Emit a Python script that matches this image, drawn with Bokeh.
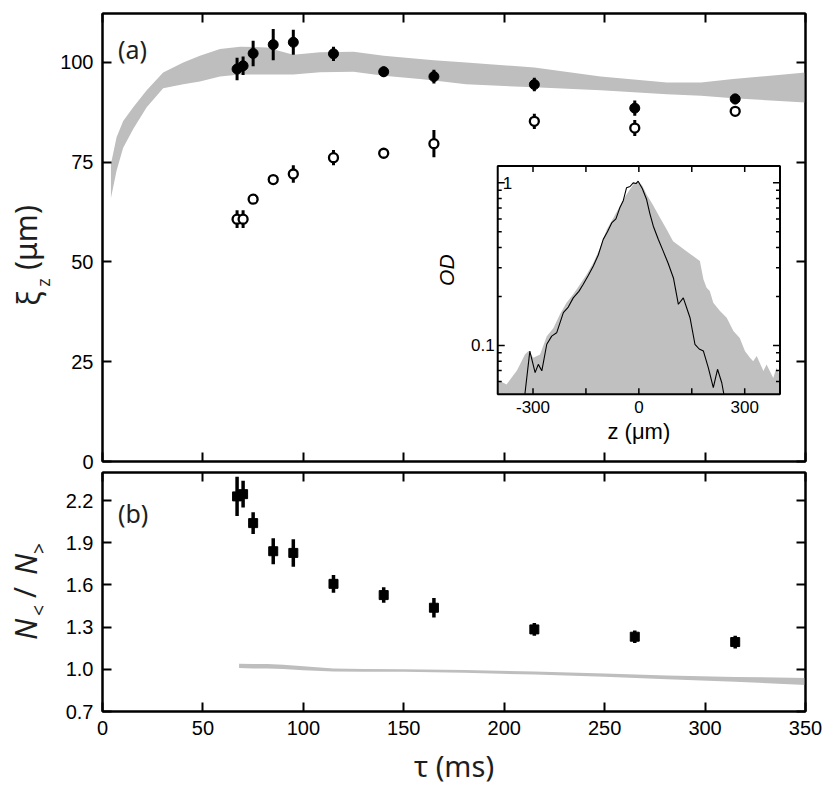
import math
from bokeh.plotting import figure
from bokeh.models import Range1d, LinearAxis, Label, FixedTicker, LogScale
from bokeh.layouts import column, row
from bokeh.embed import file_html
from bokeh.resources import INLINE
from bokeh.core.properties import value

# ---------------- data ----------------
tau_ms = [67, 70, 75, 85, 95, 115, 140, 165, 215, 265, 315]
xi_filled = [98.3, 99.1, 102.2, 104.4, 105.0, 102.1, 97.6, 96.4, 94.4, 88.5, 90.8]
xi_filled_err = [2.8, 2.3, 3.2, 3.9, 3.1, 1.8, 1.3, 1.7, 1.7, 1.9, 1.3]
xi_open = [60.7, 60.7, 65.7, 70.6, 72.0, 76.1, 77.2, 79.6, 85.2, 83.5, 87.7]
xi_open_err = [2.2, 2.2, 1.0, 1.0, 2.2, 1.9, 1.0, 3.4, 1.9, 2.0, 1.0]
ratio = [2.23, 2.246, 2.04, 1.84, 1.828, 1.608, 1.528, 1.438, 1.284, 1.232, 1.194]
ratio_err = [0.14, 0.095, 0.077, 0.092, 0.098, 0.063, 0.055, 0.07, 0.045, 0.045, 0.045]

band_a_tau = [4.2, 7.0, 10.3, 15.3, 22.0, 30.2, 40.2, 48.5, 58.5, 68.5, 81.7, 95.0,
              108.3, 125, 140, 158, 165, 181, 215, 248, 281, 298, 314, 350]
band_a_hi = [74.5, 81.2, 85.3, 88.7, 93.0, 97.4, 99.9, 101.6, 103.3, 103.9, 103.7, 101.9,
             102.5, 102.6, 101.6, 100.8, 100.5, 99.9, 98.7, 96.4, 94.9, 94.9, 95.8, 97.4]
band_a_lo = [66.0, 72.8, 78.6, 83.3, 88.7, 93.5, 94.5, 95.2, 96.4, 96.9, 96.9, 96.9,
             97.5, 97.6, 96.6, 95.8, 95.4, 94.5, 93.7, 93.0, 92.0, 91.6, 91.0, 89.9]

band_b_tau = [68, 75, 82, 90, 100, 115, 130, 150, 180, 215, 250, 281, 315, 350]
band_b_hi = [1.040, 1.038, 1.037, 1.032, 1.022, 1.006, 1.002, 1.001, 0.995, 0.985, 0.971, 0.956, 0.946, 0.939]
band_b_lo = [1.010, 1.006, 1.006, 1.003, 0.994, 0.984, 0.982, 0.982, 0.975, 0.963, 0.947, 0.929, 0.911, 0.889]

inset_z_gray = [-400, -394, -375, -361, -346, -337, -323, -313, -299, -280, -261, -242, -224,
                -205, -186, -167, -148, -129, -110, -91, -72, -54, -35, -16, -2, 10, 22, 40,
                60, 79, 97, 116, 135, 173, 183, 192, 201, 211, 230, 249, 268, 286, 301, 315,
                324, 334, 353, 362, 381, 390, 400]
inset_od_gray = [0.058, 0.0603, 0.0575, 0.0632, 0.0697, 0.0764, 0.088, 0.0922, 0.084, 0.088,
                 0.114, 0.128, 0.155, 0.183, 0.206, 0.237, 0.273, 0.322, 0.398, 0.517, 0.609,
                 0.719, 0.849, 0.977, 1.024, 0.96, 0.849, 0.73, 0.609, 0.517, 0.438, 0.408,
                 0.38, 0.33, 0.255, 0.226, 0.216, 0.183, 0.163, 0.148, 0.1225, 0.111, 0.092,
                 0.084, 0.080, 0.086, 0.0695, 0.0764, 0.063, 0.0728, 0.065]

inset_z_line = [-323, -309, -294, -285, -275, -261, -247, -233, -214, -200, -186, -170, -158,
                -143, -129, -115, -101, -89, -77, -65, -54, -44, -35, -25, -16, -8, -2, 10, 22,
                31, 41, 55, 69, 83, 98, 112, 126, 145, 159, 171, 183, 197, 211, 223, 235, 241]
inset_od_line = [0.05, 0.0922, 0.068, 0.0764, 0.0697, 0.1016, 0.114, 0.1195, 0.159, 0.172,
                 0.196, 0.215, 0.237, 0.27, 0.308, 0.36, 0.449, 0.5, 0.567, 0.6, 0.702, 0.78,
                 0.932, 0.95, 1.0, 0.99, 1.024, 0.92, 0.79, 0.65, 0.541, 0.45, 0.38, 0.32,
                 0.26, 0.179, 0.196, 0.148, 0.1016, 0.095, 0.0922, 0.0727, 0.0549, 0.0713,
                 0.0589, 0.05]

x_ticks = [0, 50, 100, 150, 200, 250, 300, 350]
xi_ticks = [0, 25, 50, 75, 100]
ratio_ticks = [0.7, 1.0, 1.3, 1.6, 1.9, 2.2]
inset_z_ticks = [-300, -150, 0, 150, 300]
inset_z_labels = ["-300", "0", "300"]
inset_z_label_pos = [-300, 0, 300]
inset_od_major = [0.1, 1.0]
inset_od_minor = [0.06, 0.07, 0.08, 0.09, 0.2, 0.3, 0.4, 0.5, 0.6, 0.7, 0.8, 0.9]

GRAY = "#bebebe"
TICK_FONT = "Liberation Sans"
LABEL_FONT = "Noto Sans"
LABEL_COLOR = "#1e1e1e"

# ---------------- layout constants ----------------
STRIP_W = 55
FRAME_W = 703
A_TOP, A_FRAME, A_BOT = 13, 448, 10
B_TOP, B_FRAME, B_BOT = 1, 239, 76
TOTAL_H = A_TOP + A_FRAME + A_BOT + B_TOP + B_FRAME + B_BOT

# inset placement as fractions of panel (a) frame
IN_L, IN_R = 0.5622, 0.9637      # from left
IN_B, IN_T = 0.150, 0.6596       # from bottom
z_lo, z_hi = -400, 400
od_lo, od_hi = 0.05, 1.27


def style_axis(ax, ticks, show_labels=True):
    ax.ticker = FixedTicker(ticks=ticks)
    ax.major_tick_in = 9
    ax.major_tick_out = 0
    ax.minor_tick_in = 0
    ax.minor_tick_out = 0
    ax.axis_line_width = 2
    ax.axis_line_color = "black"
    ax.major_tick_line_width = 2
    ax.major_tick_line_color = "black"
    ax.major_label_text_font = TICK_FONT
    ax.major_label_text_font_size = "20px"
    ax.major_label_text_color = "black"
    ax.major_label_standoff = 9
    if not show_labels:
        ax.major_label_overrides = {t: "" for t in ticks}
        ax.major_label_standoff = 0


def base_fig(frame_h, yr, top_b, bottom_b):
    p = figure(frame_width=FRAME_W, frame_height=frame_h,
               x_range=Range1d(0, 350), y_range=yr,
               output_backend="svg", toolbar_location=None,
               min_border_left=102 - STRIP_W, min_border_right=20,
               min_border_top=top_b, min_border_bottom=bottom_b)
    p.outline_line_color = "black"
    p.outline_line_width = 2
    p.xgrid.visible = False
    p.ygrid.visible = False
    p.background_fill_color = "white"
    p.border_fill_color = "white"
    return p


# ---------------- panel (a) ----------------
pa = base_fig(A_FRAME, Range1d(0, 112.2), A_TOP, A_BOT)
pa_bottom_ax = pa.below[0]
pa_left_ax = pa.left[0]
style_axis(pa_bottom_ax, x_ticks, show_labels=False)
style_axis(pa_left_ax, xi_ticks)
ax_top = LinearAxis()
style_axis(ax_top, x_ticks, show_labels=False)
pa.add_layout(ax_top, "above")
ax_right = LinearAxis()
style_axis(ax_right, xi_ticks, show_labels=False)
pa.add_layout(ax_right, "right")

pa.varea(x=band_a_tau, y1=band_a_lo, y2=band_a_hi, fill_color=GRAY)

pa.segment(x0=tau_ms, x1=tau_ms,
           y0=[v - e for v, e in zip(xi_filled, xi_filled_err)],
           y1=[v + e for v, e in zip(xi_filled, xi_filled_err)],
           line_color="black", line_width=3)
pa.scatter(tau_ms, xi_filled, marker="circle", size=10, fill_color="black", line_color="black")

pa.segment(x0=tau_ms, x1=tau_ms,
           y0=[v - e for v, e in zip(xi_open, xi_open_err)],
           y1=[v + e for v, e in zip(xi_open, xi_open_err)],
           line_color="black", line_width=3)
pa.scatter(tau_ms, xi_open, marker="circle", size=9, fill_color="white",
           line_color="black", line_width=2.3)

# inset: extra ranges (linear z, log OD) laid over the inset box of panel (a)
zspan = (z_hi - z_lo) / (IN_R - IN_L)
z_start = z_lo - IN_L * zspan
dec = math.log10(od_hi / od_lo) / (IN_T - IN_B)
od_start = od_lo / 10 ** (IN_B * dec)
od_end = od_start * 10 ** dec
pa.extra_x_ranges = {"iz": Range1d(z_start, z_start + zspan)}
pa.extra_y_ranges = {"iod": Range1d(od_start, od_end)}
pa.extra_y_scales = {"iod": LogScale()}
IR = dict(x_range_name="iz", y_range_name="iod")

pa.quad(left=[z_lo], right=[z_hi], bottom=[od_lo], top=[od_hi],
        fill_color="white", line_color=None, **IR)
pa.varea(x=inset_z_gray, y1=[od_lo] * len(inset_z_gray), y2=inset_od_gray,
         fill_color="#c0c0c0", **IR)
pa.line(inset_z_line, inset_od_line, line_color="black", line_width=1.1, **IR)
pa.quad(left=[z_lo], right=[z_hi], bottom=[od_lo], top=[od_hi],
        fill_color=None, line_color="black", line_width=2, **IR)
n = len(inset_z_ticks)
pa.ray(x=inset_z_ticks, y=[od_lo] * n, length=6, length_units="screen",
       angle=math.pi / 2, line_color="black", line_width=1.5, **IR)
pa.ray(x=inset_z_ticks, y=[od_hi] * n, length=6, length_units="screen",
       angle=-math.pi / 2, line_color="black", line_width=1.5, **IR)
pa.ray(x=[z_lo] * len(inset_od_major), y=inset_od_major, length=7, length_units="screen",
       angle=0, line_color="black", line_width=1.5, **IR)
pa.ray(x=[z_hi] * len(inset_od_major), y=inset_od_major, length=7, length_units="screen",
       angle=math.pi, line_color="black", line_width=1.5, **IR)
pa.ray(x=[z_lo] * len(inset_od_minor), y=inset_od_minor, length=4, length_units="screen",
       angle=0, line_color="black", line_width=1.5, **IR)
pa.ray(x=[z_hi] * len(inset_od_minor), y=inset_od_minor, length=4, length_units="screen",
       angle=math.pi, line_color="black", line_width=1.5, **IR)
pa.text(x=inset_z_label_pos, y=[od_lo] * 3, text=inset_z_labels,
        text_align="center", text_baseline="top", y_offset=7,
        text_font=value(TICK_FONT), text_font_size="17px", text_color="black", **IR)
pa.text(x=[z_lo], y=[0.1], text=["0.1"], text_align="right", text_baseline="middle",
        x_offset=-3, text_font=value(TICK_FONT), text_font_size="17px", text_color="black", **IR)
pa.text(x=[z_lo], y=[1.0], text=["1"], text_align="left", text_baseline="middle",
        x_offset=5, text_font=value(TICK_FONT), text_font_size="17px", text_color="black", **IR)
pa.text(x=[0], y=[od_lo], text=["z (μm)"], text_align="center", text_baseline="top",
        y_offset=25, text_font=value(TICK_FONT), text_font_size="22px", text_color="black", **IR)
pa.text(x=[z_lo], y=[math.sqrt(od_lo * od_hi)], text=["OD"], angle=math.pi / 2,
        text_align="center", text_baseline="bottom", x_offset=-40, y_offset=-10,
        text_font=value(TICK_FONT), text_font_size="21px", text_font_style="italic",
        text_color="black", **IR)

pa.add_layout(Label(x=7.7, y=103.4, text="(a)", text_font=LABEL_FONT, text_font_size="25px",
                    text_baseline="alphabetic", text_align="left", text_color=LABEL_COLOR))

# ---------------- panel (b) ----------------
pb = base_fig(B_FRAME, Range1d(0.7, 2.4), B_TOP, B_BOT)
pb_bottom_ax = pb.below[0]
pb_left_ax = pb.left[0]
style_axis(pb_bottom_ax, x_ticks)
style_axis(pb_left_ax, ratio_ticks)
pb_left_ax.major_label_overrides = {t: f"{t:.1f}" for t in ratio_ticks}
pb_bottom_ax.axis_label = "τ (ms)"
pb_bottom_ax.axis_label_text_font = LABEL_FONT
pb_bottom_ax.axis_label_text_font_size = "29px"
pb_bottom_ax.axis_label_text_font_style = "normal"
pb_bottom_ax.axis_label_text_color = LABEL_COLOR
pb_bottom_ax.axis_label_standoff = 8
pb_top = LinearAxis()
style_axis(pb_top, x_ticks, show_labels=False)
pb.add_layout(pb_top, "above")
pb_right = LinearAxis()
style_axis(pb_right, ratio_ticks, show_labels=False)
pb.add_layout(pb_right, "right")

pb.varea(x=band_b_tau, y1=band_b_lo, y2=band_b_hi, fill_color=GRAY)
pb.segment(x0=tau_ms, x1=tau_ms,
           y0=[v - e for v, e in zip(ratio, ratio_err)],
           y1=[v + e for v, e in zip(ratio, ratio_err)],
           line_color="black", line_width=3.5)
pb.scatter(tau_ms, ratio, marker="square", size=9, fill_color="black", line_color="black")

pb.add_layout(Label(x=7.7, y=2.111, text="(b)", text_font=LABEL_FONT, text_font_size="25px",
                    text_baseline="alphabetic", text_align="left", text_color=LABEL_COLOR))

# ---------------- left strip with the rotated y-axis titles ----------------
lab = figure(frame_width=STRIP_W, frame_height=TOTAL_H, x_range=Range1d(0, STRIP_W),
             y_range=Range1d(TOTAL_H, 0), x_axis_type=None, y_axis_type=None,
             output_backend="svg", toolbar_location=None, min_border=0)
lab.outline_line_color = None
lab.grid.visible = False
# pieces: text, x centre, y centre, size, style
ylabel_pieces = [("ξ", 28, 298, "30px", "normal"),
                 ("z", 42, 282, "18px", "normal"),
                 ("(μm)", 25, 237, "30px", "normal"),
                 ("N", 25, 629, "30px", "italic"),
                 ("<", 38, 610, "19px", "normal"),
                 ("/", 24, 592, "30px", "normal"),
                 ("N", 25, 564, "30px", "italic"),
                 (">", 38, 548, "19px", "normal")]
for txt, xx, yy, fs, st in ylabel_pieces:
    lab.text(x=[xx], y=[yy], text=[txt], angle=math.pi / 2, text_align="center",
             text_baseline="middle", text_font=value(LABEL_FONT), text_font_size=fs,
             text_font_style=st, text_color=LABEL_COLOR)

layout = row(lab, column(pa, pb, spacing=0), spacing=0)
open("out.html", "w").write(file_html(layout, INLINE))
